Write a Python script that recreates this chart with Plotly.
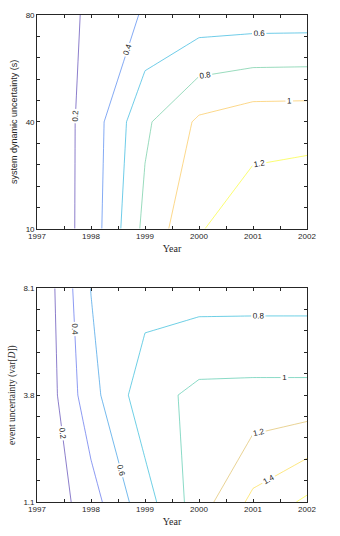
import plotly.graph_objects as go

# ---------------- data ----------------
years = [1997, 1998, 1999, 2000, 2001, 2002]

top_y_labels = ["10", "40", "80"]
top_z_10 = [0.0, 0.286, 0.855, 1.185, 1.320, 1.364]
top_z_40 = [0.0, 0.283, 0.765, 1.035, 1.119, 1.125]
top_z_80 = [0.0, 0.250, 0.420, 0.483, 0.491, 0.495]

bot_y_labels = ["1.1", "3.8", "8.1"]
bot_z_11 = [0.0, 0.316, 0.716, 1.105, 1.450, 1.637]
bot_z_38 = [0.0, 0.529, 0.921, 1.050, 1.057, 1.057]
bot_z_81 = [0.0, 0.605, 0.713, 0.709, 0.710, 0.710]

# ---------------- style ----------------
parula = [
    [0.00, "rgb(62,38,168)"],
    [0.10, "rgb(70,65,225)"],
    [0.18, "rgb(55,105,240)"],
    [0.27, "rgb(25,135,225)"],
    [0.36, "rgb(15,160,220)"],
    [0.45, "rgb(10,180,210)"],
    [0.55, "rgb(40,192,170)"],
    [0.63, "rgb(110,195,130)"],
    [0.72, "rgb(225,180,75)"],
    [0.80, "rgb(250,190,60)"],
    [0.86, "rgb(252,215,45)"],
    [0.92, "rgb(245,240,35)"],
    [1.00, "rgb(249,251,20)"],
]

AX = "#262626"
TICKFONT = dict(family="Liberation Sans, Arial", size=8, color=AX)


def contour(zrows, ylab, xa, ya, zmax, end):
    yidx = list(range(len(ylab)))
    return go.Contour(
        x=years, y=yidx, z=zrows,
        xaxis=xa, yaxis=ya,
        zmin=0, zmax=zmax, autocontour=False,
        contours=dict(start=0.2, end=end, size=0.2, coloring="lines",
                      showlabels=True,
                      labelfont=dict(family="Liberation Sans, Arial", size=8, color="#222")),
        colorscale=parula, showscale=False,
        line=dict(width=0.6, smoothing=0),
        hoverinfo="skip",
    )


fig = go.Figure()
fig.add_trace(contour([top_z_10, top_z_40, top_z_80], top_y_labels, "x", "y",
                      max(top_z_10), 1.21))
fig.add_trace(contour([bot_z_11, bot_z_38, bot_z_81], bot_y_labels, "x2", "y2",
                      max(bot_z_11), 1.61))

xcommon = dict(range=[1997, 2002], tickvals=years, ticktext=[str(y) for y in years],
               ticks="inside", ticklen=3, tickcolor=AX, tickwidth=0.6,
               minor=dict(dtick=0.5, ticks="inside", ticklen=3, tickcolor=AX, tickwidth=0.6),
               showline=True, linecolor=AX, linewidth=0.7, mirror="ticks",
               showgrid=False, zeroline=False, tickfont=TICKFONT,
               title=dict(text="Year", font=dict(family="Liberation Serif, Times New Roman", size=10, color=AX),
                          standoff=4))


def ycommon(labels, title, tfont):
    return dict(range=[0, len(labels) - 1], tickvals=list(range(len(labels))), ticktext=labels,
                ticks="inside", ticklen=3, tickcolor=AX, tickwidth=0.6,
                minor=dict(dtick=0.2, ticks="inside", ticklen=3, tickcolor=AX, tickwidth=0.6),
                showline=True, linecolor=AX, linewidth=0.7, mirror="ticks",
                showgrid=False, zeroline=False, tickfont=TICKFONT,
                title=dict(text=title, font=tfont, standoff=6))


fig.update_layout(
    width=340, height=536,
    margin=dict(l=28, r=33, t=11, b=26),
    paper_bgcolor="white", plot_bgcolor="white",
    showlegend=False,
    xaxis=dict(domain=[0, 1], anchor="y", **xcommon),
    yaxis=dict(domain=[0.561, 1], anchor="x",
               **ycommon(top_y_labels, "system dynamic uncertainty (s)",
                         dict(family="Liberation Sans, Arial", size=9, color=AX))),
    xaxis2=dict(domain=[0, 1], anchor="y2", **xcommon),
    yaxis2=dict(domain=[0, 0.439], anchor="x2",
                **ycommon(bot_y_labels, "event uncertainty (var[<i>D</i>])",
                          dict(family="Liberation Serif, Times New Roman", size=9.5, color=AX))),
)

fig.write_html("out.html")
